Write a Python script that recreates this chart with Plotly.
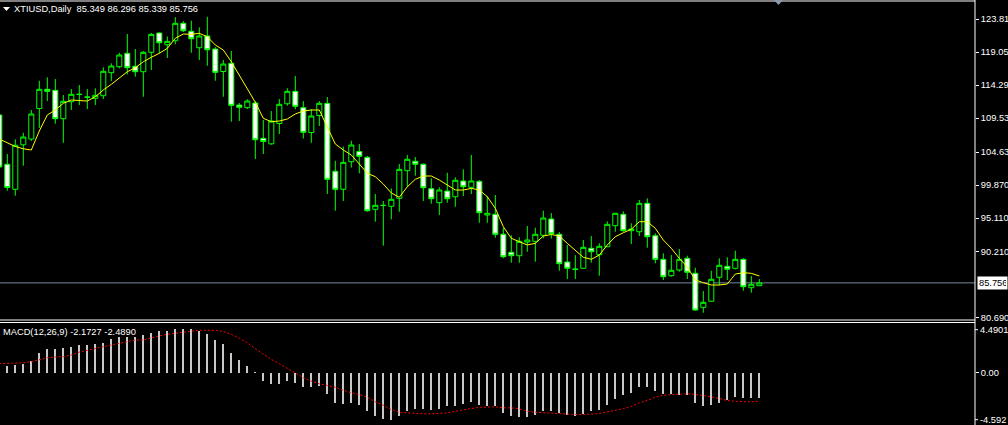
import plotly.graph_objects as go

# ---------------- data ----------------
symbol_title = "XTIUSD,Daily\u00a0\u00a085.349 86.296 85.339 85.756"
macd_title = "MACD(12,26,9) -2.1727 -2.4890"

opens = [109.97, 102.86, 99.25, 105.67, 106.50, 110.90, 113.67, 113.53, 109.43, 111.88,
         112.93, 112.56, 112.37, 112.75, 116.07, 116.93, 118.86, 116.99, 116.21, 119.01,
         121.79, 120.10, 120.68, 123.19, 122.04, 119.67, 121.36, 119.48, 116.24, 117.42,
         111.41, 111.02, 111.70, 106.60, 105.81, 108.74, 111.59, 113.38, 111.02, 107.44,
         109.89, 111.65, 101.85, 99.25, 103.23, 104.70, 103.86, 96.37, 96.94, 96.80,
         97.95, 101.93, 103.29, 102.86, 99.34, 97.32, 99.00, 98.18, 100.45, 99.54,
         100.40, 95.54, 95.64, 92.76, 90.16, 89.67, 91.65, 91.75, 92.62, 94.97,
         92.76, 88.76, 87.75, 87.86, 90.74, 89.82, 90.97, 94.00, 95.64, 93.28,
         93.13, 97.23, 92.56, 89.15, 86.79, 87.61, 89.30, 87.14, 82.23, 83.10,
         86.56, 88.14, 87.86, 89.15, 85.06, 85.349]
highs = [110.54, 104.34, 106.46, 107.41, 110.69, 114.91, 115.40, 115.16, 112.85, 113.71,
         114.29, 113.71, 113.82, 116.84, 117.42, 118.95, 121.65, 119.48, 119.19, 121.79,
         121.89, 121.29, 124.06, 123.52, 123.57, 122.61, 124.14, 119.77, 117.90, 119.19,
         111.70, 112.23, 111.98, 109.24, 110.54, 112.27, 113.82, 115.59, 111.98, 110.83,
         111.98, 112.56, 103.37, 105.42, 106.26, 105.78, 104.05, 98.57, 97.56, 99.39,
         102.90, 104.20, 103.91, 102.97, 100.84, 99.54, 101.64, 100.98, 102.13, 104.20,
         100.59, 98.28, 98.43, 93.71, 92.62, 92.33, 93.96, 93.71, 96.16, 95.83,
         93.09, 91.22, 89.77, 91.94, 92.51, 91.46, 94.63, 95.83, 96.08, 94.35,
         97.71, 97.95, 92.90, 90.02, 89.77, 90.64, 89.67, 87.94, 84.58, 87.51,
         89.30, 89.44, 90.39, 89.30, 86.75, 86.296]
lows = [101.89, 99.05, 98.33, 102.65, 106.21, 108.09, 111.98, 108.71, 105.97, 110.69,
        111.41, 110.83, 111.41, 112.27, 114.87, 116.70, 115.83, 115.49, 112.60, 116.45,
        118.86, 118.19, 120.16, 121.94, 118.95, 117.90, 117.07, 114.91, 112.60, 109.00,
        109.10, 110.83, 103.62, 104.34, 105.68, 107.22, 111.31, 110.79, 106.58, 105.97,
        108.38, 98.57, 96.16, 97.56, 102.39, 101.56, 96.02, 94.58, 91.12, 94.92,
        96.02, 99.62, 101.21, 97.56, 97.17, 95.54, 97.32, 96.74, 98.28, 98.57,
        94.43, 94.43, 92.27, 89.30, 88.66, 88.66, 90.25, 88.81, 92.18, 92.15,
        87.51, 86.31, 86.31, 87.80, 88.66, 86.79, 90.94, 93.13, 93.13, 91.36,
        92.51, 90.83, 88.58, 86.17, 86.64, 87.37, 86.31, 81.74, 81.45, 83.05,
        85.40, 86.17, 87.70, 84.63, 84.34, 85.339]
closes = [102.47, 99.51, 105.60, 106.79, 110.11, 113.67, 113.38, 109.43, 111.94, 112.95,
          112.95, 112.54, 112.81, 116.27, 117.03, 118.62, 116.79, 116.21, 119.01, 121.60,
          120.39, 120.59, 123.19, 122.12, 120.97, 121.36, 119.38, 116.12, 117.32, 111.36,
          111.08, 111.98, 106.40, 106.14, 109.10, 111.51, 113.38, 111.22, 107.47, 109.82,
          111.65, 100.69, 99.25, 103.14, 105.64, 104.01, 96.16, 96.94, 96.91, 97.81,
          102.13, 103.58, 102.86, 99.48, 97.89, 99.15, 97.89, 100.55, 99.62, 100.45,
          95.87, 95.79, 92.76, 89.53, 89.67, 91.75, 91.94, 92.76, 95.11, 92.85,
          88.52, 87.86, 87.71, 90.88, 90.25, 91.03, 94.20, 95.79, 93.28, 93.52,
          97.23, 92.41, 89.15, 86.64, 87.57, 89.15, 87.28, 81.84, 82.95, 86.27,
          88.29, 87.71, 89.15, 85.20, 85.55, 85.756]
ma_values = [106.50, 105.93, 105.42, 105.10, 104.92, 107.66, 109.97, 110.69, 111.65, 112.13,
             112.08, 111.98, 112.60, 113.57, 114.39, 115.34, 116.21, 116.79, 117.65, 118.29,
             118.86, 119.58, 121.03, 121.65, 121.60, 121.75, 121.26, 120.06, 119.34, 117.65,
             115.73, 113.82, 111.80, 109.49, 109.00, 109.10, 109.39, 110.11, 110.54, 110.69,
             110.69, 108.23, 105.78, 104.92, 104.20, 102.90, 101.56, 101.07, 100.01, 98.72,
             98.10, 99.62, 100.69, 101.17, 101.17, 100.59, 99.87, 99.15, 99.15, 99.39,
             99.15, 98.18, 96.51, 93.86, 92.18, 91.69, 91.22, 91.46, 92.51, 92.73,
             92.51, 91.46, 90.50, 89.44, 89.15, 89.77, 91.22, 92.41, 92.99, 93.48,
             94.58, 94.58, 93.63, 91.94, 90.74, 89.30, 88.04, 86.17, 85.78, 85.45,
             85.45, 85.59, 87.03, 87.22, 87.13, 86.75]
macd_main = [None,
             0.60, 0.66, 0.75, 1.04, 1.73, 2.08, 2.08, 2.17, 2.32, 2.43,
             2.43, 2.52, 2.67, 2.96, 3.20, 3.17, 3.17, 3.32, 3.56, 3.70,
             3.70, 3.91, 3.85, 3.85, 3.70, 3.41, 2.88, 2.52, 1.73, 1.11,
             0.58, 0.05, -0.73, -1.02, -1.02, -0.73, -0.93, -1.26, -1.22, -1.17,
             -1.90, -2.64, -2.73, -2.64, -2.79, -3.38, -3.82, -4.05, -4.18, -3.82,
             -3.38, -3.14, -3.14, -3.23, -3.14, -2.94, -2.94, -2.73, -2.58, -2.79,
             -2.94, -2.96, -3.52, -3.82, -3.91, -3.91, -3.67, -3.38, -3.32, -3.52,
             -3.67, -3.82, -3.61, -3.38, -3.23, -2.79, -2.26, -1.99, -1.81, -1.26,
             -1.26, -1.55, -1.90, -1.90, -1.99, -1.99, -2.64, -2.94, -2.85, -2.64,
             -2.35, -2.14, -2.19, -2.19, -2.1727]
macd_signal = [0.81,
               0.84, 0.84, 0.90, 0.99, 1.19, 1.34, 1.40, 1.43, 1.58, 1.84,
               1.99, 2.17, 2.32, 2.46, 2.61, 2.81, 2.90, 2.90, 3.11, 3.26,
               3.41, 3.50, 3.61, 3.70, 3.76, 3.76, 3.76, 3.65, 3.41, 3.05,
               2.67, 2.14, 1.64, 1.19, 0.81, 0.40, -0.07, -0.42, -0.73, -0.96,
               -1.11, -1.26, -1.52, -1.75, -1.90, -2.14, -2.55, -2.85, -3.23, -3.47,
               -3.52, -3.58, -3.61, -3.61, -3.58, -3.52, -3.38, -3.23, -3.14, -3.03,
               -3.03, -2.99, -3.08, -3.08, -3.16, -3.38, -3.47, -3.52, -3.58, -3.58,
               -3.67, -3.67, -3.67, -3.61, -3.58, -3.43, -3.29, -3.16, -2.94, -2.64,
               -2.43, -2.14, -1.96, -1.90, -1.84, -1.84, -1.90, -1.99, -2.11, -2.26,
               -2.43, -2.50, -2.55, -2.55, -2.489]
bar_index = list(range(-1, len(opens) - 1))

price_tick_values = [123.81, 119.05, 114.29, 109.53, 104.63, 99.87, 95.11, 90.21, 80.69]
price_tick_labels = ["123.81", "119.05", "114.29", "109.53", "104.63",
                     "99.870", "95.110", "90.210", "80.690"]
last_price = 85.756
last_price_label = "85.756"
macd_max_label = "4.4901"
macd_min_label = "-4.592"
macd_axis_max = 4.4901
macd_axis_min = -4.592

# ---------------- layout constants ----------------
W, H = 1008, 425
FONT = "Liberation Sans"
FS = 9.3
right_px = 975
xr = right_px / W


def py(p):
    return 1 - p / H


fig = go.Figure()

fig.add_trace(go.Candlestick(
    x=bar_index, open=opens, high=highs, low=lows, close=closes,
    increasing=dict(line=dict(color="#00FF00", width=1), fillcolor="#000000"),
    decreasing=dict(line=dict(color="#00FF00", width=1), fillcolor="#FFFFFF"),
    whiskerwidth=0, showlegend=False, hoverinfo="skip",
    xaxis="x", yaxis="y"))

fig.add_trace(go.Scatter(
    x=bar_index, y=ma_values, mode="lines",
    line=dict(color="#FFFF00", width=1), showlegend=False, hoverinfo="skip",
    xaxis="x", yaxis="y"))

fig.add_trace(go.Bar(
    x=bar_index, y=macd_main, width=0.13,
    marker=dict(color="#C8C8C8", line=dict(width=0)),
    showlegend=False, hoverinfo="skip", xaxis="x2", yaxis="y2"))

fig.add_trace(go.Scatter(
    x=bar_index, y=macd_signal, mode="lines",
    line=dict(color="#FF0000", width=1, dash="2px,2px"),
    showlegend=False, hoverinfo="skip", xaxis="x2", yaxis="y2"))

xrange = [-0.9125, 120.96]
common_x = dict(domain=[0, xr], range=xrange, showgrid=False, zeroline=False,
                showticklabels=False, ticks="", showline=False, fixedrange=True,
                automargin=False)

fig.update_layout(
    template="none",
    width=W, height=H, autosize=False,
    margin=dict(l=0, r=0, t=0, b=0, pad=0, autoexpand=False),
    paper_bgcolor="#000000", plot_bgcolor="#000000",
    font=dict(family=FONT, size=FS, color="#FFFFFF"),
    boxgap=0.3, boxgroupgap=0.1,
    bargap=0,
    xaxis=dict(anchor="y", rangeslider=dict(visible=False), **common_x),
    xaxis2=dict(anchor="y2", matches="x", **common_x),
    yaxis=dict(domain=[py(320), py(1)], range=[80.40, 126.41], side="right",
               tickvals=price_tick_values, ticktext=price_tick_labels,
               ticks="outside", ticklen=3, tickcolor="#FFFFFF", tickwidth=1,
               tickfont=dict(family=FONT, size=FS, color="#FFFFFF"),
               showgrid=False, zeroline=False, showline=False, fixedrange=True,
               automargin=False),
    yaxis2=dict(domain=[0, py(322)], range=[macd_axis_min, macd_axis_max], side="right",
                tickvals=[0], ticktext=["0.00"],
                ticks="outside", ticklen=3, tickcolor="#FFFFFF", tickwidth=1,
                tickfont=dict(family=FONT, size=FS, color="#FFFFFF"),
                showgrid=False, zeroline=False, showline=False, fixedrange=True,
                automargin=False),
)

shapes = []
# current price line
shapes.append(dict(type="line", xref="paper", yref="y", x0=0, x1=xr,
                   y0=last_price, y1=last_price,
                   line=dict(color="#778899", width=1), layer="below"))
# frames
for ypx in (1, 320, 322.5):
    shapes.append(dict(type="line", xref="paper", yref="paper", x0=0, x1=xr,
                       y0=py(ypx), y1=py(ypx), line=dict(color="#FFFFFF", width=1)))
shapes.append(dict(type="line", xref="paper", yref="paper", x0=xr, x1=xr,
                   y0=0, y1=1, line=dict(color="#FFFFFF", width=1)))
# small ticks for the MACD extreme labels
for ypx in (329.7, 419.7):
    shapes.append(dict(type="line", xref="paper", yref="paper", x0=xr, x1=(right_px + 3) / W,
                       y0=py(ypx), y1=py(ypx), line=dict(color="#FFFFFF", width=1)))
# chart-shift marker at top
shapes.append(dict(type="path", xref="paper", yref="paper",
                   path=f"M {774/W},{py(0)} L {783/W},{py(0)} L {778.5/W},{py(5)} Z",
                   fillcolor="#8A9AAA", line=dict(width=0)))
# title triangle
shapes.append(dict(type="path", xref="paper", yref="paper",
                   path=f"M {3/W},{py(7)} L {10/W},{py(7)} L {6.5/W},{py(11)} Z",
                   fillcolor="#FFFFFF", line=dict(width=0)))
fig.update_layout(shapes=shapes)

annotations = [
    dict(text=symbol_title, xref="paper", yref="paper", x=12 / W, y=py(9.5),
         xanchor="left", yanchor="middle", showarrow=False,
         font=dict(family=FONT, size=FS, color="#FFFFFF")),
    dict(text=macd_title, xref="paper", yref="paper", x=1 / W, y=py(331.5),
         xanchor="left", yanchor="middle", showarrow=False,
         font=dict(family=FONT, size=FS, color="#FFFFFF")),
    dict(text=macd_max_label, xref="paper", yref="paper", x=(right_px + 3) / W, y=py(329.7),
         xanchor="left", yanchor="middle", showarrow=False,
         font=dict(family=FONT, size=FS, color="#FFFFFF")),
    dict(text=macd_min_label, xref="paper", yref="paper", x=(right_px + 3) / W, y=py(419.7),
         xanchor="left", yanchor="middle", showarrow=False,
         font=dict(family=FONT, size=FS, color="#FFFFFF")),
    dict(text=last_price_label, xref="paper", yref="y", x=(right_px + 2) / W, y=last_price,
         xanchor="left", yanchor="middle", showarrow=False, bgcolor="#FFFFFF",
         borderpad=1, width=27, align="left",
         font=dict(family=FONT, size=FS, color="#000000")),
]
fig.update_layout(annotations=annotations)

post = (
    "document.documentElement.style.margin='0';"
    "document.documentElement.style.padding='0';"
    "document.documentElement.style.overflow='hidden';"
    "document.documentElement.style.background='#000';"
    "document.body.style.margin='0';"
    "document.body.style.padding='0';"
    "document.body.style.overflow='hidden';"
    "document.body.style.background='#000';"
)
fig.write_html("out.html", config={"displayModeBar": False}, post_script=post)
